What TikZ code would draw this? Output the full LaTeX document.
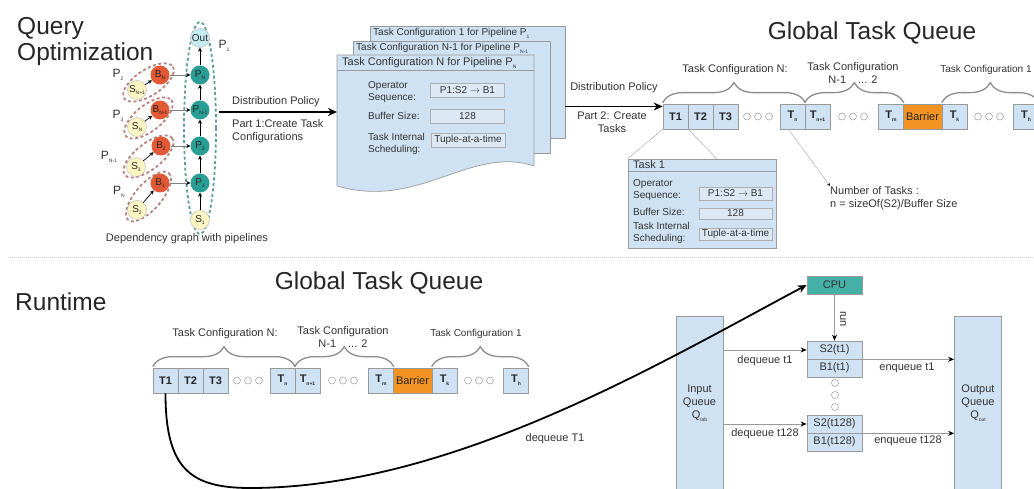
\documentclass[tikz,border=0pt]{standalone}
\usepackage{fontspec}
\setmainfont{Liberation Sans}
\usetikzlibrary{arrows.meta,decorations.pathreplacing,calc,shapes.geometric}

\definecolor{lblue}{HTML}{CFE2F3}
\definecolor{fieldblue}{HTML}{DCE9F5}
\definecolor{boxgray}{HTML}{9A9A9A}
\definecolor{barrierorange}{HTML}{F39323}
\definecolor{pteal}{HTML}{2A9D94}
\definecolor{cputeal}{HTML}{45B0A6}
\definecolor{bred}{HTML}{E25A35}
\definecolor{syellow}{HTML}{FBF5C4}
\definecolor{outcyan}{HTML}{C6ECF1}
\definecolor{pipeteal}{HTML}{5E9C98}
\definecolor{piperose}{HTML}{B9837F}
\definecolor{bracegray}{HTML}{8C8C8C}
\definecolor{textdark}{HTML}{333333}
\definecolor{dotgray}{HTML}{A8A8A8}

% small lowered index, as used in T_n, P_N, ...
\newcommand\lo[1]{\raisebox{-0.5ex}{\fontsize{5}{5}\selectfont #1}}

\tikzset{
  txt/.style={inner sep=0pt, text=textdark, font=\fontsize{11}{13}\selectfont},
  smalltxt/.style={inner sep=0pt, text=textdark, font=\fontsize{10}{11.5}\selectfont},
  titletxt/.style={inner sep=0pt, anchor=base west, text=black!85, font=\fontsize{24.5}{26}\selectfont},
  tbox/.style={draw=boxgray, fill=lblue, minimum width=25pt, minimum height=25pt, inner sep=0pt,
    line width=0.7pt, text=black!85, font=\fontsize{11}{13}\selectfont\bfseries},
  barrierbox/.style={tbox, fill=barrierorange, minimum width=39pt, font=\fontsize{11}{13}\selectfont},
  qdot/.style={circle, draw=dotgray, fill=white, minimum size=7pt, inner sep=0pt, line width=0.6pt},
  cbrace/.style={draw=bracegray, line width=1.3pt, decorate, decoration={brace, amplitude=20pt}},
  fieldbox/.style={draw=boxgray!80, fill=fieldblue, minimum width=74pt, minimum height=14pt, inner sep=0pt,
    line width=0.6pt, font=\fontsize{10}{11}\selectfont, text=textdark},
  panel/.style={draw=boxgray, fill=lblue, line width=0.7pt},
  gnode/.style={circle, minimum size=19pt, inner sep=0pt, font=\fontsize{10}{10}\selectfont, text=black!85},
  bnode/.style={gnode, fill=bred},
  pnode/.style={gnode, fill=pteal},
  snode/.style={gnode, fill=syellow, draw=boxgray!70},
  onode/.style={gnode, fill=outcyan, draw=boxgray!70},
  edgearrow/.style={-{Stealth[length=4pt,width=4pt]}, line width=0.7pt},
  feedarrow/.style={draw=gray, line width=0.7pt, -{Stealth[length=4pt,width=4pt,color=black]}},
  pipeP/.style={draw=pipeteal, line width=1.8pt, dash pattern=on 3pt off 2.5pt},
  pipeS/.style={draw=piperose, line width=1.8pt, dash pattern=on 3pt off 2.5pt},
  bigarrow/.style={-{Stealth[length=9pt,width=8pt]}, line width=1.6pt},
  thinline/.style={draw=gray!60, line width=0.5pt},
  grayarrow/.style={draw=gray!80, line width=0.8pt, -{Stealth[length=6pt,width=5pt,color=black]}},
  unitbox/.style={draw=boxgray, fill=lblue, minimum width=55pt, minimum height=18pt, inner sep=0pt,
    line width=0.7pt, font=\fontsize{11}{13}\selectfont, text=textdark},
  queuebox/.style={draw=boxgray, fill=lblue, minimum width=47pt, minimum height=175pt, inner sep=0pt,
    line width=0.7pt, align=center, font=\fontsize{11}{13}\selectfont, text=textdark},
}

% the global task queue with its configuration braces; #1 name prefix, #2/#3 offset
\newcommand\taskqueue[3]{%
\begin{scope}[shift={(#2,#3)}]
  \node[tbox] (#1t1) at (675.5,116.5) {T1};
  \node[tbox] (#1t2) at (700.5,116.5) {T2};
  \node[tbox] (#1t3) at (725.5,116.5) {T3};
  \node[qdot] (#1da) at (747,116.5) {};
  \node[qdot] (#1db) at (758,116.5) {};
  \node[qdot] (#1dc) at (769,116.5) {};
  \node[tbox] (#1tn) at (792.5,116.5) {T\lo{n}};
  \node[tbox] (#1tn1) at (817.5,116.5) {T\lo{n+1}};
  \node[qdot] (#1dd) at (842,116.5) {};
  \node[qdot] (#1de) at (853,116.5) {};
  \node[qdot] (#1df) at (864,116.5) {};
  \node[tbox] (#1tm) at (891,116.5) {T\lo{m}};
  \node[barrierbox] (#1bar) at (922.5,116.5) {Barrier};
  \node[tbox] (#1tk) at (954.5,116.5) {T\lo{k}};
  \node[qdot] (#1dg) at (978,116.5) {};
  \node[qdot] (#1dh) at (989,116.5) {};
  \node[qdot] (#1di) at (1000,116.5) {};
  \node[tbox] (#1th) at (1026,116.5) {T\lo{h}};
  \draw[cbrace] ([yshift=1pt]#1t1.north west) -- ([yshift=1pt]#1tn.north east);
  \draw[cbrace] ([yshift=1pt]#1tn1.north west) -- ([yshift=1pt]#1tm.north east);
  \draw[cbrace] ([yshift=1pt]#1tk.north west) -- ([yshift=1pt]#1th.north east);
  \node[txt] at (735,70) {Task Configuration N:};
  \node[txt, align=center] at (853,73) {Task Configuration\\N-1\hspace{12pt}... 2};
  \node[txt, font=\fontsize{10}{12}\selectfont] at (986,70) {Task Configuration 1};
\end{scope}}

\begin{document}
\begin{tikzpicture}[x=1pt,y=-1pt]
\useasboundingbox (0,0) rectangle (1034,489);
\fill[white] (0,0) rectangle (1034,489);

% ---------------- headings ----------------
\node[titletxt] at (17,35) {Query};
\node[titletxt] at (17,61) {Optimization};
\node[titletxt, anchor=base] at (872,40) {Global Task Queue};
\node[titletxt] at (15,310) {Runtime};
\node[titletxt, anchor=base] at (379,290) {Global Task Queue};

% ---------------- dependency graph ----------------
\draw[pipeP] (200,128) ellipse [x radius=16, y radius=106];
\draw[pipeS, rotate around={33:(148.5,82.5)}] (148.5,82.5) ellipse [x radius=29, y radius=13];
\draw[pipeS, rotate around={38:(148.5,118)}] (148.5,118) ellipse [x radius=29, y radius=13];
\draw[pipeS, rotate around={38:(148.5,156.5)}] (148.5,156.5) ellipse [x radius=30, y radius=13];
\draw[pipeS, rotate around={49:(148.5,196.5)}] (148.5,196.5) ellipse [x radius=31, y radius=13];

\node[onode] (out) at (200,38) {Out};
\node[pnode] (pN) at (200,75) {P\lo{N}};
\node[pnode] (pN1) at (200,110) {P\lo{N-1}};
\node[pnode] (p2) at (200,146) {P\lo{2}};
\node[pnode] (p1) at (200,183) {P\lo{1}};
\node[snode] (s1) at (200,220) {S\lo{1}};
\node[bnode] (bN) at (160,75) {B\lo{N}};
\node[bnode] (bN1) at (160,110) {B\lo{N-1}};
\node[bnode] (b2) at (161,146) {B\lo{2}};
\node[bnode] (b1) at (160,183) {B\lo{1}};
\node[snode] (sNp1) at (137,90) {S\lo{N+1}};
\node[snode] (sN) at (137,127) {S\lo{N}};
\node[snode] (s3) at (136,167) {S\lo{3}};
\node[snode] (s2) at (137,210) {S\lo{2}};

\foreach \a/\b in {s1/p1, p1/p2, p2/pN1, pN1/pN, pN/out} \draw[edgearrow] (\a) -- (\b);
\foreach \a/\b in {b1/p1, b2/p2, bN1/pN1, bN/pN} \draw[feedarrow] (\a) -- (\b);
\foreach \a/\b in {s2/b1, s3/b2, sN/bN1, sNp1/bN} \draw[edgearrow] (\a) -- (\b);

\begin{scope}[every node/.style={inner sep=0pt, text=textdark, font=\fontsize{12}{12}\selectfont}]
  \node at (224,46) {P\lo{1}};
  \node at (118,75) {P\lo{2}};
  \node at (118,116) {P\lo{3}};
  \node at (109,157) {P\lo{N-1}};
  \node at (119,192) {P\lo{N}};
\end{scope}
\node[txt] at (187,239) {Dependency graph with pipelines};

% ---------------- task configurations ----------------
\coordinate (p1out) at (219,112);
\coordinate (docin) at (337,112);
\draw[bigarrow] (p1out) -- (docin);
\node[txt, anchor=base west] at (232,105) {Distribution Policy};
\node[txt, anchor=north west, align=left] at (232,119) {Part 1:Create Task\\Configurations};

\path[panel] (370,26) rectangle (565,138);
\node[smalltxt, anchor=base west] at (373,36) {Task Configuration 1 for Pipeline P\lo{1}};
\path[panel] (353,41) rectangle (550,153);
\node[smalltxt, anchor=base west] at (356,51) {Task Configuration N-1 for Pipeline P\lo{N-1}};
\path[panel] (337,55) -- (534,55) -- (534,166) .. controls (470,145) and (420,210) .. (337,186) -- cycle;
\draw[boxgray, line width=0.7pt] (337,70) -- (534,70);
\node[txt, anchor=base west] at (342,66) {Task Configuration N for Pipeline P\lo{N}};

\node[smalltxt, anchor=west, align=left] at (368,92) {Operator\\Sequence:};
\node[fieldbox] (fa) at (467.5,90) {P1:S2 $\rightarrow$ B1};
\node[smalltxt, anchor=west] at (368,116) {Buffer Size:};
\node[fieldbox] (fb) at (467.5,116) {128};
\node[smalltxt, anchor=west, align=left] at (368,144) {Task Internal\\Scheduling:};
\node[fieldbox] (fc) at (468,140) {Tuple-at-a-time};

% ---------------- queue (top) ----------------
\taskqueue{q}{0}{0}
\coordinate (docout) at (565,106.5);
\draw[bigarrow] (docout) -- (docout -| qt1.west);
\node[txt, anchor=base] at (614,91) {Distribution Policy};
\node[txt, anchor=north, align=center] at (612,112) {Part 2: Create\\Tasks};

\node[panel, minimum width=148pt, minimum height=89pt, inner sep=0pt] (task1) at (702,203.5) {};
\draw[boxgray, line width=0.7pt] ([yshift=-13pt]task1.north west) -- ([yshift=-13pt]task1.north east);
\node[txt, anchor=base west] at (633,169) {Task 1};
\node[smalltxt, anchor=west, align=left] at (633,190) {Operator\\Sequence:};
\node[fieldbox, minimum width=73pt, minimum height=13pt] at (735.5,193.5) {P1:S2 $\rightarrow$ B1};
\node[smalltxt, anchor=west] at (633,212) {Buffer Size:};
\node[fieldbox, minimum width=73pt, minimum height=11pt] at (735.5,213.5) {128};
\node[smalltxt, anchor=west, align=left] at (633,233) {Task Internal\\Scheduling:};
\node[fieldbox, minimum width=73pt, minimum height=12pt] at (735.5,234) {Tuple-at-a-time};
\draw[thinline] (qt1.south west) -- (task1.north west);
\draw[thinline] (qt1.south east) -- ([xshift=89pt]task1.north west);

\node[txt, anchor=north west, align=left] (ntasks) at (830,186) {Number of Tasks :\\n = sizeOf(S2)/Buffer Size};
\draw[thinline, -{Stealth[length=3pt,width=3pt,color=black]}] ([xshift=-4pt]qtn.south) -- (ntasks.north west);

% ---------------- separator ----------------
\draw[gray!40, line width=0.8pt, dash pattern=on 1pt off 1pt] (8,257) -- (1034,257);

% ---------------- runtime ----------------
\taskqueue{r}{-510}{264}

\node[unitbox, fill=cputeal] (cpu) at (834.5,285) {CPU};
\node[unitbox] (sa) at (834.5,350) {S2(t1)};
\node[unitbox] (ba) at (834.5,368) {B1(t1)};
\node[qdot] (va) at (835,383) {};
\node[qdot] (vb) at (835,395) {};
\node[qdot] (vc) at (835,407) {};
\node[unitbox] (sb) at (834.5,424) {S2(t128)};
\node[unitbox] (bb) at (834.5,442) {B1(t128)};
\node[queuebox] (inq) at (699.5,403.5) {Input\\Queue\\Q\lo{tab}};
\node[queuebox] (outq) at (978,403.5) {Output\\Queue\\Q\lo{out}};

\draw[grayarrow] (cpu.south) -- (sa.north);
\node[txt, rotate=-90] at (843,319) {run};
\draw[grayarrow] (inq.east |- sa) -- (sa.west);
\node[txt] at (765,361) {dequeue t1};
\draw[grayarrow] (inq.east |- sb) -- (sb.west);
\node[txt] at (765,434) {dequeue t128};
\draw[grayarrow] (sa.south east) -- (sa.south east -| outq.west);
\node[txt] at (907,368) {enqueue t1};
\draw[grayarrow] (sb.south east) -- (sb.south east -| outq.west);
\node[txt] at (908,441) {enqueue t128};

\coordinate (dip) at (250,488);
\draw[bigarrow, line width=1.8pt] (rt1.south) .. controls +(0,75) and +(-60,0) .. (dip)
  .. controls +(200,0) and +(-150,80) .. (cpu.west);
\node[txt] at (555,439) {dequeue T1};
\end{tikzpicture}
\end{document}
